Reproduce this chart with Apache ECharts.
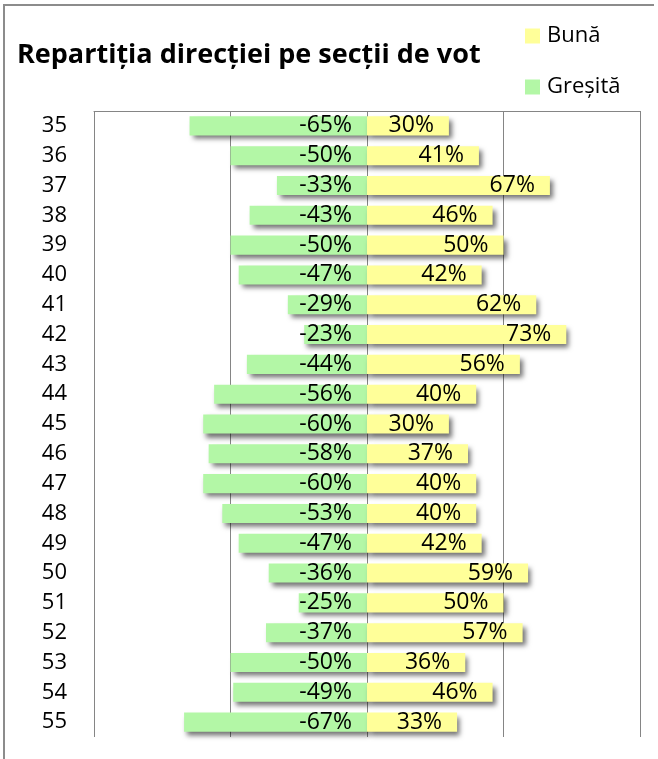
<!DOCTYPE html>
<html>
<head>
<meta charset="utf-8">
<script src="https://cdn.jsdelivr.net/npm/echarts@6/dist/echarts.min.js"></script>
<style>
  html, body { margin: 0; padding: 0; background: #fff; }
  #chart { width: 658px; height: 759px; }
</style>
</head>
<body>
<div id="chart"></div>
<script>
// sectii de vot, de sus in jos
const sectii = ['35', '36', '37', '38', '39', '40', '41', '42', '43', '44', '45',
  '46', '47', '48', '49', '50', '51', '52', '53', '54', '55']

// directia buna (pozitiv) si gresita (negativ), in fractii
const buna = [0.30, 0.41, 0.67, 0.46, 0.50, 0.42, 0.62, 0.73, 0.56, 0.40, 0.30,
  0.37, 0.40, 0.40, 0.42, 0.59, 0.50, 0.57, 0.36, 0.46, 0.33]
const gresita = [-0.65, -0.50, -0.33, -0.43, -0.50, -0.47, -0.29, -0.23, -0.44, -0.56, -0.60,
  -0.58, -0.60, -0.53, -0.47, -0.36, -0.25, -0.37, -0.50, -0.49, -0.67]

const font = '"Open Sans", "Noto Sans", sans-serif'
const gridColor = '#858585'

const barShadow = {
  shadowColor: 'rgba(0, 0, 0, 0.55)',
  shadowBlur: 5,
  shadowOffsetX: 3,
  shadowOffsetY: 4
}

const barLabel = {
  show: true,
  position: 'insideRight',
  distance: 15,
  color: '#000',
  fontFamily: font,
  fontSize: 23,
  formatter: p => Math.round(p.value * 100) + '%'
}

const chart = echarts.init(document.getElementById('chart'))

chart.setOption({
  animation: false,
  title: {
    text: 'Repartiția direcției pe secții de vot',
    left: 12,
    top: 37,
    textStyle: {
      fontFamily: font,
      fontWeight: 'bold',
      fontSize: 27,
      color: '#000'
    }
  },
  legend: {
    data: ['Bună', 'Greșită'],
    orient: 'vertical',
    left: 520,
    top: 20,
    itemWidth: 15,
    itemHeight: 15,
    itemGap: 29,
    icon: 'rect',
    textStyle: {
      fontFamily: font,
      fontSize: 22,
      lineHeight: 22,
      color: '#000',
      padding: [0, 0, 0, 2]
    }
  },
  graphic: [{
    type: 'polyline',
    shape: { points: [[4, 759], [4, 5], [654, 5]] },
    style: { stroke: '#8c8c8c', lineWidth: 2, fill: null }
  }],
  grid: {
    left: 94,
    right: 18,
    top: 111,
    bottom: 22
  },
  xAxis: {
    type: 'value',
    position: 'top',
    min: -1,
    max: 1,
    interval: 0.5,
    axisLine: { show: true, lineStyle: { color: gridColor, width: 1 } },
    axisTick: { show: false },
    axisLabel: { show: false },
    splitLine: { show: true, lineStyle: { color: gridColor, width: 1 } }
  },
  yAxis: {
    type: 'category',
    data: sectii,
    inverse: true,
    axisLine: { show: false },
    axisTick: { show: false },
    axisLabel: {
      margin: 27,
      color: '#000',
      fontFamily: font,
      fontSize: 22
    }
  },
  series: [
    {
      name: 'Greșită',
      type: 'bar',
      stack: 'dir',
      barWidth: '64%',
      data: gresita,
      itemStyle: { color: '#b3f7a6', ...barShadow },
      label: barLabel
    },
    {
      name: 'Bună',
      type: 'bar',
      stack: 'dir',
      barWidth: '64%',
      data: buna,
      itemStyle: { color: '#ffff99', ...barShadow },
      label: barLabel
    }
  ]
})
</script>
</body>
</html>
